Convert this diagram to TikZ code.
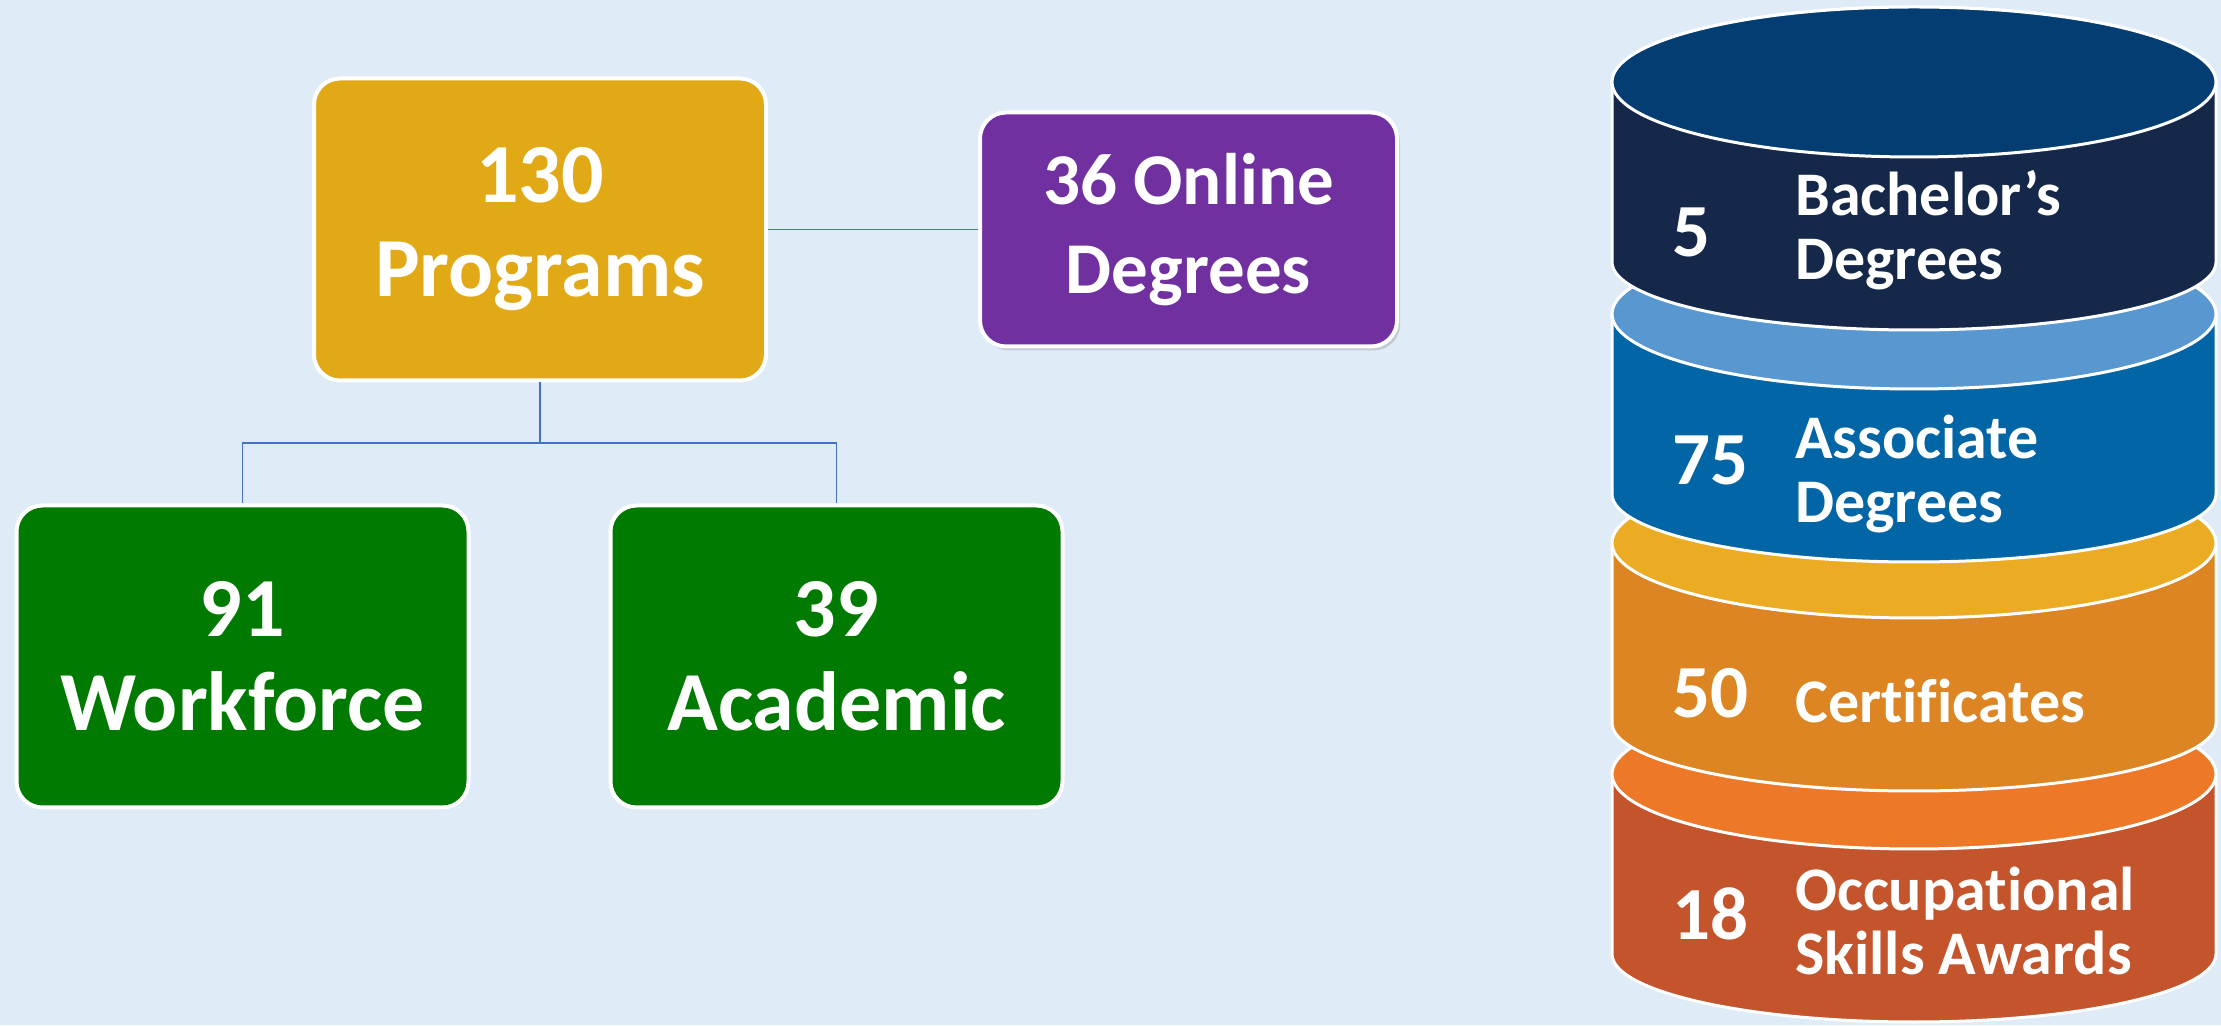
\documentclass[tikz,border=0pt]{standalone}
\usepackage{fontspec}
\setmainfont{Carlito}[Ligatures=NoCommon]
\usetikzlibrary{positioning, shadows}

\definecolor{bgBlue}{HTML}{DFEBF6}
\definecolor{linkBlue}{HTML}{4472C4}
\definecolor{progGold}{HTML}{E2A917}
\definecolor{onlinePurple}{HTML}{7030A0}
\definecolor{boxGreen}{HTML}{007A00}
\definecolor{bachTop}{HTML}{043D72}
\definecolor{bachBody}{HTML}{15284A}
\definecolor{assocTop}{HTML}{5897D0}
\definecolor{assocBody}{HTML}{0265A6}
\definecolor{certTop}{HTML}{EBAC24}
\definecolor{certBody}{HTML}{DC8522}
\definecolor{occTop}{HTML}{EC7828}
\definecolor{occBody}{HTML}{C4542B}

\begin{document}
\begin{tikzpicture}[
      x=1pt, y=1pt,
      link/.style     = {draw=linkBlue, line width=1.5pt},
      box/.style      = {rectangle, draw=white, line width=4pt,
        rounded corners=26pt, align=center, text=white, inner sep=0pt},
      bigBox/.style   = {box, minimum width=452pt, minimum height=302pt,
      font=\fontsize{84}{94}\selectfont\bfseries},
      disc/.style     = {draw=white, line width=3pt},
      discNum/.style  = {anchor=base west, text=white, inner sep=0pt,
      font=\fontsize{75}{80}\selectfont\bfseries},
      discText/.style = {anchor=base west, align=left, text=white,
      inner sep=0pt, font=\fontsize{62}{64}\selectfont\bfseries}
    ]

    \useasboundingbox (0,0) rectangle (2221,1025);
    \fill[bgBlue] (0,0) rectangle (2221,1025);

    % ---------------- program tree ----------------
    \node[bigBox, fill=progGold] at (540,795.5) (progs) {130\\Programs};
    \node[box, fill=onlinePurple, right=210pt of progs,
      minimum width=417pt, minimum height=234pt,
      font=\fontsize{73}{89}\selectfont\bfseries,
      drop shadow={shadow xshift=3pt, shadow yshift=-4pt, opacity=0.3}]
    (online) {36 Online\\Degrees};

    \node[bigBox, fill=boxGreen, below=121pt of progs, xshift=-297.5pt]
    (workforce) {91\\Workforce};
    \node[bigBox, fill=boxGreen, right=138pt of workforce]
    (academic) {39\\Academic};

    \draw[link] (progs.east) -- (progs.east -| online.west);
    \draw[link] (progs.south) -- ++(0,-60.5) -| (workforce.north);
    \draw[link] (progs.south) -- ++(0,-60.5) -| (academic.north);

    % ---------------- stacked discs (bottom first) ----------------
    \filldraw[disc, fill=occBody] (1612,251) -- (1612,71)
    arc[start angle=180, end angle=360, x radius=302, y radius=68]
    -- (2216,251) arc[start angle=0, end angle=180, x radius=302, y radius=75]
    -- cycle;
    \filldraw[disc, fill=occTop] (1914,251) ellipse[x radius=302, y radius=75];

    \filldraw[disc, fill=certBody] (1612,482) -- (1612,302)
    arc[start angle=180, end angle=360, x radius=302, y radius=68]
    -- (2216,482) arc[start angle=0, end angle=180, x radius=302, y radius=75]
    -- cycle;
    \filldraw[disc, fill=certTop] (1914,482) ellipse[x radius=302, y radius=75];

    \filldraw[disc, fill=assocBody] (1612,711) -- (1612,531)
    arc[start angle=180, end angle=360, x radius=302, y radius=68]
    -- (2216,711) arc[start angle=0, end angle=180, x radius=302, y radius=75]
    -- cycle;
    \filldraw[disc, fill=assocTop] (1914,711) ellipse[x radius=302, y radius=75];

    \filldraw[disc, fill=bachBody] (1612,943) -- (1612,763)
    arc[start angle=180, end angle=360, x radius=302, y radius=68]
    -- (2216,943) arc[start angle=0, end angle=180, x radius=302, y radius=75]
    -- cycle;
    \filldraw[disc, fill=bachTop] (1914,943) ellipse[x radius=302, y radius=75];

    % disc labels (base = last line)
    \node[discNum]  at (1672,768) (bachNum)    {5};
    \node[discText] at (1795,745) (bachLabel)  {Bachelor’s\\Degrees};
    \node[discNum]  at (1672,540) (assocNum)   {75};
    \node[discText] at (1795,502) (assocLabel) {Associate\\Degrees};
    \node[discNum]  at (1672,307) (certNum)    {50};
    \node[discText] at (1795,302) (certLabel)  {Certificates};
    \node[discNum]  at (1672,85)  (occNum)     {18};
    \node[discText] at (1795,50)  (occLabel)   {Occupational\\Skills Awards};

  \end{tikzpicture}
\end{document}
